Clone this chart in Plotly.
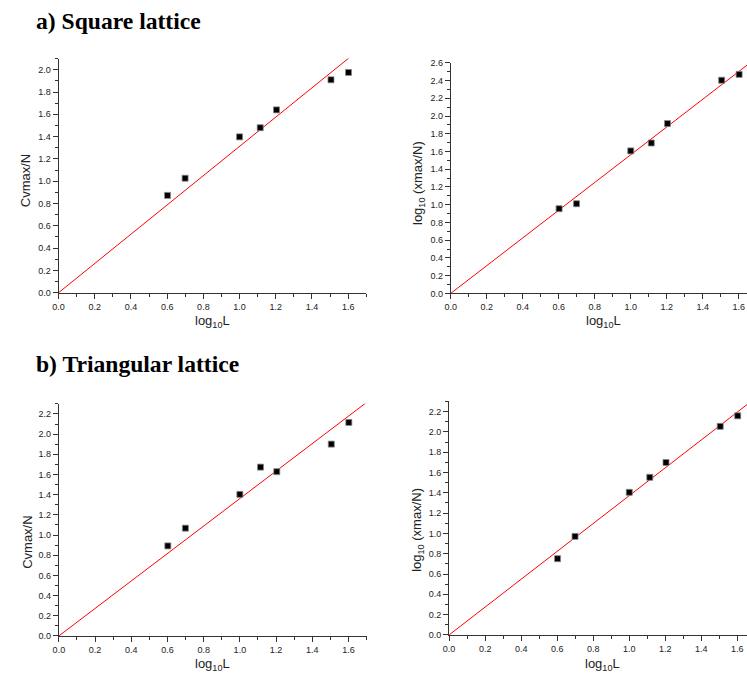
import numpy as np
import plotly.graph_objects as go

# ---- data ----
log_L = [0.602, 0.699, 1.0, 1.114, 1.204, 1.505, 1.602]

sq_cv = [0.873, 1.027, 1.398, 1.480, 1.640, 1.910, 1.976]
sq_chi = [0.955, 1.011, 1.607, 1.696, 1.915, 2.404, 2.470]
tri_cv = [0.892, 1.068, 1.403, 1.673, 1.628, 1.901, 2.116]
tri_chi = [0.751, 0.971, 1.405, 1.553, 1.699, 2.055, 2.159]

W, H = 747, 682
X_MAX = 1.7

def fit_slope(x, y):
    x = np.asarray(x); y = np.asarray(y)
    return float((x * y).sum() / (x * x).sum())

def px(p):
    return p / W

def py(p):
    return 1 - p / H

def xd(p0, p1):
    return [px(p0), min(px(p1), 1.0)]

def yd(top, bottom):
    return [py(bottom), py(top)]

panels = [
    (sq_cv, (53, 363.2), (54.4, 292.0), 1.7, 2.1),
    (sq_chi, (448.3, 747), (58.7, 292.7), (747 - 448.3) / 181.5, 2.6),
    (tri_cv, (53.3, 363.5), (404.8, 640.3), 1.7, 2.3),
    (tri_chi, (446.7, 747), (402.4, 639.3), (747 - 446.7) / 181.6, 2.3),
]

fig = go.Figure()
axis_col = "#333333"
tick_font = dict(family="Liberation Sans, Arial", size=9, color="#222222")

for i, (yv, (xp0, xp1), (yt, yb), xmax, ymax) in enumerate(panels, start=1):
    xa = "x" if i == 1 else f"x{i}"
    ya = "y" if i == 1 else f"y{i}"
    k = fit_slope(log_L, yv)
    fig.add_trace(go.Scatter(x=[0, X_MAX], y=[0, k * X_MAX], mode="lines",
                             line=dict(color="#ff0000", width=1),
                             xaxis=xa, yaxis=ya, showlegend=False, hoverinfo="skip"))
    fig.add_trace(go.Scatter(x=log_L, y=yv, mode="markers",
                             marker=dict(symbol="square", size=6, color="black",
                                         line=dict(color="#888888", width=0.8)),
                             xaxis=xa, yaxis=ya, showlegend=False, cliponaxis=False))
    xkey = "xaxis" if i == 1 else f"xaxis{i}"
    ykey = "yaxis" if i == 1 else f"yaxis{i}"
    common = dict(showgrid=False, zeroline=False, showline=True, linecolor=axis_col,
                  linewidth=1, ticks="outside", ticklen=5, tickwidth=1, tickcolor=axis_col,
                  tickfont=tick_font, tickformat=".1f",
                  minor=dict(ticks="outside", ticklen=3, tickwidth=1, tickcolor=axis_col,
                             dtick=0.1, showgrid=False))
    fig.update_layout({
        xkey: dict(domain=xd(xp0, xp1), range=[0, xmax], anchor=ya,
                   tick0=0, dtick=0.2, **common),
        ykey: dict(domain=yd(yt, yb), range=[0, ymax], anchor=xa,
                   tick0=0, dtick=0.2, **common),
    })

title_font = dict(family="Liberation Serif, Times New Roman", size=23.6, color="black")
lab_font = dict(family="Liberation Sans, Arial", size=13, color="#222222")

annotations = [
    dict(text="<b>a) Square lattice</b>", x=px(28), y=py(16), font=title_font,
         xanchor="left", yanchor="middle"),
    dict(text="<b>b) Triangular lattice</b>", x=px(28), y=py(364), font=title_font,
         xanchor="left", yanchor="middle"),
]
xlabels = [(208, 321), (602.5, 321), (208.5, 669), (601.5, 669)]
for cx, cy in xlabels:
    annotations.append(dict(text="log<sub>10</sub>L", x=px(cx), y=py(cy), font=lab_font,
                            xanchor="center", yanchor="middle"))
ylabels = [("Cvmax/N", 20, 178), ("log<sub>10</sub> (xmax/N)", 416, 181),
           ("Cvmax/N", 21, 545), ("log<sub>10</sub> (xmax/N)", 415, 533)]
for t, cx, cy in ylabels:
    annotations.append(dict(text=t, x=px(cx), y=py(cy), font=lab_font, textangle=-90,
                            xanchor="center", yanchor="middle"))
for a in annotations:
    a.update(xref="paper", yref="paper", showarrow=False)

fig.update_layout(width=W, height=H, margin=dict(l=0, r=0, t=0, b=0),
                  paper_bgcolor="white", plot_bgcolor="white",
                  annotations=annotations, showlegend=False)

# remove the page's default body margin so the figure fills the window exactly
fig.write_html("out.html",
               config={"displayModeBar": False, "staticPlot": True},
               post_script="document.body.style.margin='0';"
                           "document.documentElement.style.overflow='hidden';")
